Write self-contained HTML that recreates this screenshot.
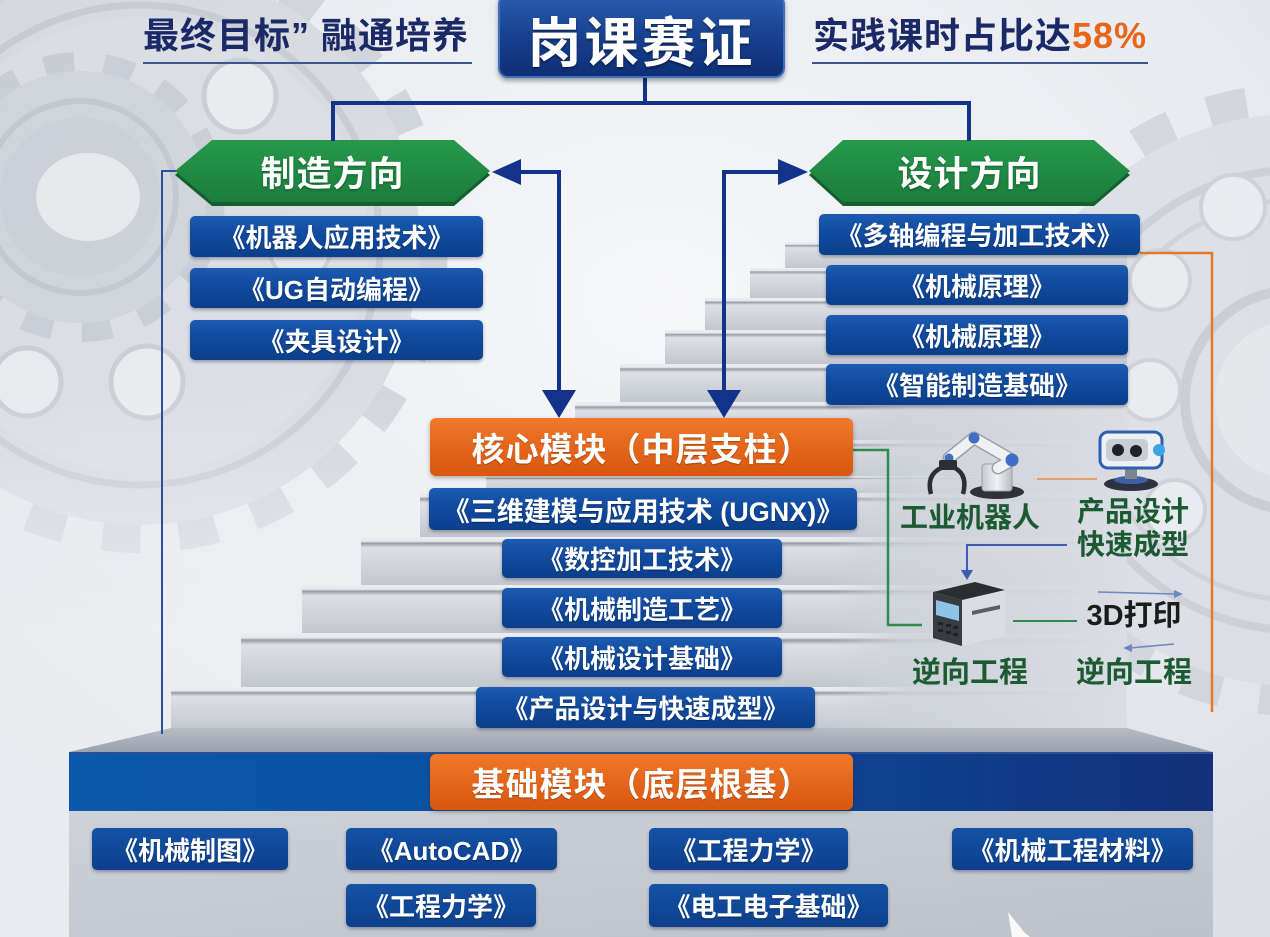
<!DOCTYPE html>
<html><head><meta charset="utf-8"><style>
*{margin:0;padding:0;box-sizing:border-box}
html,body{width:1270px;height:937px;overflow:hidden;background:#e4e7ec}
body{position:relative;font-family:"Liberation Sans","Noto Sans CJK SC","WenQuanYi Zen Hei",sans-serif;font-weight:700}
.a{position:absolute;white-space:nowrap}
.b{position:absolute;display:flex;align-items:center;justify-content:center;color:#fff;font-weight:700;border-radius:5px;background:linear-gradient(180deg,#1c5cb2 0%,#114a9e 45%,#0b3f8c 100%);box-shadow:0 2px 3px rgba(20,30,60,.35);white-space:nowrap;text-shadow:0 1px 1px rgba(0,0,0,.35);font-size:26px}
.o{position:absolute;display:flex;align-items:center;justify-content:center;color:#fff;font-weight:700;border-radius:6px;background:linear-gradient(180deg,#f07a2c 0%,#e4661b 50%,#d9570f 100%);box-shadow:0 2px 4px rgba(60,30,10,.35);white-space:nowrap;font-size:33px;letter-spacing:1px;text-shadow:0 1px 1px rgba(0,0,0,.3)}
.hx{position:absolute;display:flex;align-items:center;justify-content:center;color:#fff;font-size:35px;letter-spacing:1px;text-shadow:0 1px 2px rgba(0,0,0,.35)}
.g{position:absolute;color:#1c5a33;font-size:28px;text-align:center;white-space:nowrap}
</style></head><body>
<svg class="a" style="left:0;top:0" width="1270" height="937" viewBox="0 0 1270 937">
<defs>
<radialGradient id="bg" cx="52%" cy="32%" r="75%"><stop offset="0" stop-color="#f6f7f9"/><stop offset="0.6" stop-color="#e9ecf0"/><stop offset="1" stop-color="#dcdfe6"/></radialGradient>
<linearGradient id="rg" x1="0" y1="0" x2="0" y2="1"><stop offset="0" stop-color="#eceef1"/><stop offset="0.09" stop-color="#e6e8eb"/><stop offset="0.13" stop-color="#959ca7"/><stop offset="0.22" stop-color="#dde0e5"/><stop offset="1" stop-color="#c2c7cf"/></linearGradient>
<linearGradient id="side" x1="0" y1="0" x2="1" y2="0"><stop offset="0" stop-color="#cdd1d8" stop-opacity="0"/><stop offset="0.25" stop-color="#cfd3da" stop-opacity="0.85"/><stop offset="1" stop-color="#dadde3"/></linearGradient>
<linearGradient id="top" x1="0" y1="0" x2="0" y2="1"><stop offset="0" stop-color="#b6bcc6"/><stop offset="1" stop-color="#9aa2ae"/></linearGradient>
<linearGradient id="band" x1="0" y1="0" x2="1" y2="0"><stop offset="0" stop-color="#0b58ad"/><stop offset="0.5" stop-color="#0a4e9e"/><stop offset="1" stop-color="#13307a"/></linearGradient>
<linearGradient id="body" x1="0" y1="0" x2="1" y2="1"><stop offset="0" stop-color="#cdd2d9"/><stop offset="1" stop-color="#bcc2cb"/></linearGradient>
<linearGradient id="gl" x1="0" y1="0" x2="0" y2="1"><stop offset="0" stop-color="#26994b"/><stop offset="1" stop-color="#1b7d3c"/></linearGradient>
<linearGradient id="ped" x1="0" y1="0" x2="1" y2="0"><stop offset="0" stop-color="#c5c9cf"/><stop offset="0.5" stop-color="#f1f2f4"/><stop offset="1" stop-color="#b7bcc4"/></linearGradient>
<linearGradient id="orf" x1="1" y1="0" x2="0" y2="0"><stop offset="0" stop-color="#e27a2c"/><stop offset="1" stop-color="#e27a2c" stop-opacity="0.2"/></linearGradient>
<linearGradient id="gfade" x1="0" y1="0" x2="0" y2="1"><stop offset="0" stop-color="#eef0f3" stop-opacity="0"/><stop offset="0.45" stop-color="#eef0f3" stop-opacity="0.7"/><stop offset="1" stop-color="#eef0f3" stop-opacity="0.7"/></linearGradient>
</defs>
<rect width="1270" height="937" fill="url(#bg)"/>
<!-- left big gear -->
<g opacity="0.8">
<circle cx="140" cy="245" r="293" fill="none" stroke="#cbd0d7" stroke-width="30" stroke-dasharray="38.3 38.3"/>
<circle cx="140" cy="245" r="280" fill="#d4d8de"/>
<circle cx="140" cy="245" r="240" fill="none" stroke="#c0c5cd" stroke-width="7"/>
<circle cx="140" cy="245" r="228" fill="#d8dbe1"/>
<circle cx="240" cy="96" r="36" fill="#e9ebef" stroke="#c3c8cf" stroke-width="5"/>
<circle cx="147" cy="382" r="36" fill="#e9ebef" stroke="#c3c8cf" stroke-width="5"/>
<circle cx="27" cy="382" r="34" fill="#e9ebef" stroke="#c3c8cf" stroke-width="5"/>
<circle cx="300" cy="250" r="30" fill="#e3e6ea" stroke="#c3c8cf" stroke-width="4"/>
<circle cx="80" cy="197" r="135" fill="none" stroke="#c3c8d0" stroke-width="20" stroke-dasharray="30 30"/>
<circle cx="80" cy="197" r="126" fill="#cbd0d7"/>
<circle cx="80" cy="197" r="96" fill="none" stroke="#bbc0c8" stroke-width="6"/>
<circle cx="80" cy="197" r="80" fill="#c6cbd3"/>
<ellipse cx="88" cy="197" rx="52" ry="44" fill="#e6e8ec"/>
</g>
<rect x="0" y="380" width="520" height="557" fill="url(#gfade)"/>
<!-- right gear -->
<g opacity="0.75">
<circle cx="1295" cy="400" r="300" fill="none" stroke="#cdd1d8" stroke-width="32" stroke-dasharray="39 39"/>
<circle cx="1295" cy="400" r="286" fill="#d9dce2"/>
<circle cx="1295" cy="400" r="230" fill="none" stroke="#c4c9d0" stroke-width="8"/>
<circle cx="1295" cy="400" r="200" fill="none" stroke="#c8ccd3" stroke-width="5"/>
<circle cx="1233" cy="207" r="32" fill="#e9ebef" stroke="#c6cad1" stroke-width="4"/>
<circle cx="1160" cy="280" r="30" fill="#e9ebef" stroke="#c6cad1" stroke-width="4"/>
<circle cx="1150" cy="390" r="30" fill="#e9ebef" stroke="#c6cad1" stroke-width="4"/>
<circle cx="1175" cy="510" r="30" fill="#e9ebef" stroke="#c6cad1" stroke-width="4"/>
<circle cx="1295" cy="400" r="110" fill="none" stroke="#c0c5cd" stroke-width="10"/>
<circle cx="1295" cy="400" r="80" fill="#e4e6ea"/>
</g>
<!-- stairs -->
<g>
<rect x="785" y="242" width="342" height="488" fill="#ccd1d8"/><rect x="785" y="242" width="342" height="26" fill="url(#rg)"/>
<rect x="750" y="268" width="377" height="462" fill="#ccd1d8"/><rect x="750" y="268" width="377" height="30" fill="url(#rg)"/>
<rect x="705" y="298" width="422" height="432" fill="#ccd1d8"/><rect x="705" y="298" width="422" height="32" fill="url(#rg)"/>
<rect x="665" y="330" width="462" height="400" fill="#ccd1d8"/><rect x="665" y="330" width="462" height="34" fill="url(#rg)"/>
<rect x="620" y="364" width="507" height="366" fill="#ccd1d8"/><rect x="620" y="364" width="507" height="38" fill="url(#rg)"/>
<rect x="575" y="402" width="552" height="328" fill="#ccd1d8"/><rect x="575" y="402" width="552" height="38" fill="url(#rg)"/>
<rect x="530" y="440" width="597" height="290" fill="#ccd1d8"/><rect x="530" y="440" width="597" height="36" fill="url(#rg)"/>
<rect x="486" y="476" width="641" height="254" fill="#ccd1d8"/><rect x="486" y="476" width="641" height="17" fill="url(#rg)"/>
<rect x="420" y="493" width="707" height="237" fill="#ccd1d8"/><rect x="420" y="493" width="707" height="44" fill="url(#rg)"/>
<rect x="361" y="537" width="766" height="193" fill="#ccd1d8"/><rect x="361" y="537" width="766" height="48" fill="url(#rg)"/>
<rect x="302" y="585" width="825" height="145" fill="#ccd1d8"/><rect x="302" y="585" width="825" height="48" fill="url(#rg)"/>
<rect x="241" y="633" width="886" height="97" fill="#ccd1d8"/><rect x="241" y="633" width="886" height="54" fill="url(#rg)"/>
<rect x="171" y="687" width="956" height="43" fill="#ccd1d8"/><rect x="171" y="687" width="956" height="43" fill="url(#rg)"/>
<rect x="830" y="404" width="297" height="326" fill="url(#side)"/>
</g>
<!-- platform -->
<polygon points="171,728 1127,728 1213,752 69,752" fill="url(#top)"/>
<rect x="69" y="752" width="1144" height="59" fill="url(#band)"/>
<rect x="69" y="752" width="1144" height="2" fill="#2b4f94"/>
<rect x="69" y="811" width="1144" height="126" fill="url(#body)"/>
<polygon points="1008,912 1024,932 1030,937 1012,937" fill="#ffffff" opacity="0.9"/>
<!-- hexagons -->
<polygon points="175,175 212,144 454,144 490,175 454,206 212,206" fill="#135f2d"/>
<polygon points="175,171 212,140 454,140 490,171 454,202 212,202" fill="url(#gl)"/>
<polygon points="809,175 843,144 1094,144 1130,175 1094,206 843,206" fill="#135f2d"/>
<polygon points="809,171 843,140 1094,140 1130,171 1094,202 843,202" fill="url(#gl)"/>
<!-- connectors -->
<g stroke="#13338a" stroke-width="4" fill="none">
<path d="M645 76 V103 M331 103 H971 M333 101 V141 M969 101 V141"/>
<path d="M559 392 V172 H518"/>
<path d="M724 392 V172 H780"/>
</g>
<g fill="#13338a">
<polygon points="492,172 521,159 521,185"/>
<polygon points="542,390 576,390 559,418"/>
<polygon points="808,172 778,159 778,185"/>
<polygon points="707,390 741,390 724,418"/>
</g>
<path d="M176 171 H162 V734" stroke="#2d4f9a" stroke-width="2" fill="none"/>
<path d="M853 450 H888 V625 H922" stroke="#2f8a4c" stroke-width="2.5" fill="none"/>
<path d="M1140 253 H1212 V712" stroke="#e27a2c" stroke-width="2.5" fill="none"/>
<path d="M1212 712 H1000" stroke="url(#orf)" stroke-width="2.5" fill="none"/>
<path d="M1037 479 H1097" stroke="#e8904a" stroke-width="2" fill="none" opacity="0.8"/>
<path d="M1067 545 H967 V572" stroke="#3d5bb0" stroke-width="2" fill="none"/>
<polygon points="961,570 973,570 967,580" fill="#3d5bb0"/>
<path d="M1013 621 H1077" stroke="#2f8a4c" stroke-width="2" fill="none"/>
<path d="M1098 592 L1176 594" stroke="#6f87c5" stroke-width="1.6" fill="none"/>
<polygon points="1183,594 1174,590 1174,598" fill="#6f87c5"/>
<path d="M1174 644 L1130 648" stroke="#6f87c5" stroke-width="1.6" fill="none"/>
<polygon points="1123,648 1132,644 1132,652" fill="#6f87c5"/>
<!-- robot arm -->
<g>
<ellipse cx="997" cy="492" rx="27" ry="7" fill="#2f3238"/>
<rect x="982" y="464" width="30" height="27" rx="3" fill="url(#ped)" stroke="#9aa0a8" stroke-width="1"/>
<path d="M998 468 L1012 460 L974 438 L949 458" stroke="#9aa0a8" stroke-width="13" stroke-linecap="round" stroke-linejoin="round" fill="none"/>
<path d="M998 468 L1012 460 L974 438 L949 458" stroke="#f0f1f3" stroke-width="10" stroke-linecap="round" stroke-linejoin="round" fill="none"/>
<circle cx="1012" cy="460" r="6.5" fill="#3e6fc6"/>
<circle cx="974" cy="438" r="5.5" fill="#3e6fc6"/>
<circle cx="949" cy="458" r="4.5" fill="#3e6fc6"/>
<rect x="939" y="460" width="18" height="10" rx="2" fill="#2b2e33"/>
<path d="M941 468 Q926 475 931 494" stroke="#2b2e33" stroke-width="4.5" fill="none"/>
<path d="M955 468 Q968 475 963 494" stroke="#2b2e33" stroke-width="4.5" fill="none"/>
</g>
<!-- camera -->
<g>
<ellipse cx="1131" cy="484" rx="27" ry="7" fill="#2c3240"/>
<ellipse cx="1131" cy="480" rx="17" ry="4" fill="#3c5fa8"/>
<rect x="1125" y="464" width="12" height="15" fill="#7e858f"/>
<rect x="1100" y="432" width="62" height="36" rx="8" fill="#eef0f3" stroke="#2f5fb0" stroke-width="3"/>
<rect x="1106" y="439" width="42" height="22" rx="5" fill="#c9ced6"/>
<circle cx="1118" cy="450" r="6" fill="#1d2128"/>
<circle cx="1136" cy="451" r="6" fill="#1d2128"/>
<circle cx="1159" cy="450" r="6" fill="#3fa3e6"/>
</g>
<!-- printer -->
<g>
<polygon points="962,600 1005,590 1005,636 962,646" fill="#dadde2"/>
<polygon points="933,592 975,582 1005,590 962,600" fill="#2b2d31"/>
<polygon points="933,592 962,600 962,646 933,638" fill="#383b40"/>
<polygon points="936,600 959,606 959,621 936,615" fill="#8fc3e8"/>
<g fill="#1f2124"><rect x="938" y="622" width="5" height="3"/><rect x="946" y="624" width="5" height="3"/><rect x="953" y="626" width="5" height="3"/><rect x="938" y="629" width="5" height="3"/><rect x="946" y="631" width="5" height="3"/><rect x="953" y="633" width="5" height="3"/></g>
<polygon points="972,611 1000,605 1000,609 972,615" fill="#5a5d62"/>
</g>
</svg>

<!-- header -->
<div class="a" style="left:136px;top:14px;width:340px;text-align:center;font-size:36px;line-height:44px;color:#1b2a66;letter-spacing:1px">最终目标” 融通培养</div>
<div class="a" style="left:143px;top:62px;width:329px;height:2px;background:#3a5590"></div>
<div class="a" style="left:806px;top:14px;width:348px;text-align:center;font-size:36px;line-height:44px;color:#1b2a66;letter-spacing:1px">实践课时占比达<span style="color:#e8651a">58%</span></div>
<div class="a" style="left:812px;top:62px;width:336px;height:2px;background:#3a5590"></div>
<div class="a" style="left:498px;top:-6px;width:287px;height:84px;border-radius:10px;background:linear-gradient(180deg,#2a5cae 0%,#163f8c 55%,#0f2f78 100%);border:2px solid #3d6fc2;box-shadow:0 3px 5px rgba(0,0,0,.35);color:#fff;font-size:54px;letter-spacing:3px;display:flex;align-items:center;justify-content:center;padding-top:4px;text-shadow:0 2px 2px rgba(0,0,0,.4)">岗课赛证</div>

<div class="hx" style="left:175px;top:140px;width:315px;height:62px">制造方向</div>
<div class="hx" style="left:809px;top:140px;width:321px;height:62px">设计方向</div>

<!-- left boxes -->
<div class="b" style="left:190px;top:216px;width:293px;height:41px">《机器人应用技术》</div>
<div class="b" style="left:190px;top:268px;width:293px;height:40px">《UG自动编程》</div>
<div class="b" style="left:190px;top:320px;width:293px;height:40px">《夹具设计》</div>

<!-- right boxes -->
<div class="b" style="left:819px;top:214px;width:321px;height:41px">《多轴编程与加工技术》</div>
<div class="b" style="left:826px;top:265px;width:302px;height:40px">《机械原理》</div>
<div class="b" style="left:826px;top:315px;width:302px;height:40px">《机械原理》</div>
<div class="b" style="left:826px;top:364px;width:302px;height:41px">《智能制造基础》</div>

<!-- core -->
<div class="o" style="left:430px;top:418px;width:423px;height:58px">核心模块（中层支柱）</div>
<div class="b" style="left:429px;top:488px;width:428px;height:42px;font-size:27px">《三维建模与应用技术 (UGNX)》</div>
<div class="b" style="left:502px;top:539px;width:280px;height:39px">《数控加工技术》</div>
<div class="b" style="left:502px;top:588px;width:280px;height:40px">《机械制造工艺》</div>
<div class="b" style="left:502px;top:637px;width:280px;height:40px">《机械设计基础》</div>
<div class="b" style="left:476px;top:687px;width:339px;height:41px">《产品设计与快速成型》</div>

<!-- icon labels -->
<div class="g" style="left:890px;top:500px;width:160px;line-height:36px">工业机器人</div>
<div class="g" style="left:1068px;top:495px;width:130px;line-height:33px">产品设计<br>快速成型</div>
<div class="g" style="left:1076px;top:598px;width:116px;line-height:36px;color:#1b1b1b;font-size:29px">3D打印</div>
<div class="g" style="left:902px;top:655px;width:136px;line-height:36px;font-size:29px">逆向工程</div>
<div class="g" style="left:1066px;top:655px;width:136px;line-height:36px;font-size:29px">逆向工程</div>

<!-- base -->
<div class="o" style="left:430px;top:754px;width:423px;height:56px">基础模块（底层根基）</div>
<div class="b" style="left:92px;top:828px;width:196px;height:42px;background:linear-gradient(180deg,#1552a6,#0c3f8c)">《机械制图》</div>
<div class="b" style="left:346px;top:828px;width:211px;height:42px;background:linear-gradient(180deg,#1552a6,#0c3f8c)">《AutoCAD》</div>
<div class="b" style="left:346px;top:884px;width:190px;height:43px;background:linear-gradient(180deg,#1552a6,#0c3f8c)">《工程力学》</div>
<div class="b" style="left:649px;top:828px;width:199px;height:42px;background:linear-gradient(180deg,#1552a6,#0c3f8c)">《工程力学》</div>
<div class="b" style="left:649px;top:884px;width:239px;height:43px;background:linear-gradient(180deg,#1552a6,#0c3f8c)">《电工电子基础》</div>
<div class="b" style="left:952px;top:828px;width:241px;height:42px;background:linear-gradient(180deg,#1552a6,#0c3f8c)">《机械工程材料》</div>
</body></html>
